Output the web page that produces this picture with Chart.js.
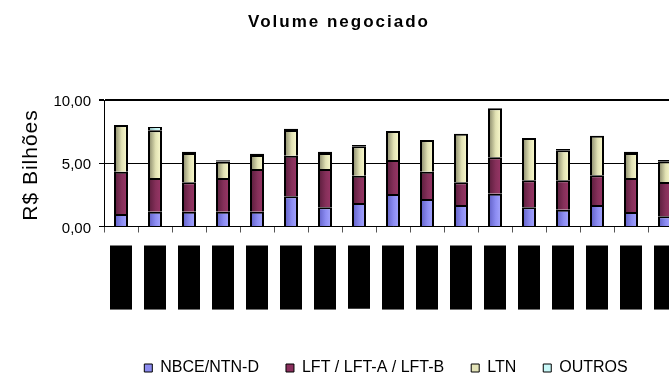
<!DOCTYPE html>
<html>
<head>
<meta charset="utf-8">
<script src="https://cdn.jsdelivr.net/npm/chart.js@4.4.1/dist/chart.umd.min.js"></script>
<style>
  html, body { margin: 0; padding: 0; background: #fff; overflow: hidden; }
  #wrap { width: 669px; height: 375px; overflow: hidden; position: relative; }
  canvas { display: block; }
</style>
</head>
<body>
<div id="wrap"><canvas id="c" width="700" height="375"></canvas></div>
<script>
// Trading days shown on the category axis
const categories = ['02/06/2003', '03/06/2003', '04/06/2003', '05/06/2003', '06/06/2003',
  '09/06/2003', '10/06/2003', '11/06/2003', '12/06/2003', '13/06/2003', '16/06/2003',
  '17/06/2003', '18/06/2003', '20/06/2003', '23/06/2003', '24/06/2003', '25/06/2003'];

// Traded volume per security group, R$ billions
const nbce   = [0.99, 1.17, 1.17, 1.17, 1.17, 2.39, 1.52, 1.86, 2.57, 2.17, 1.70, 2.59, 1.52, 1.33, 1.70, 1.15, 0.81];
const lft    = [3.34, 2.66, 2.32, 2.66, 3.38, 3.21, 3.03, 2.16, 2.69, 2.16, 1.79, 2.88, 2.13, 2.32, 2.35, 2.68, 2.71];
const ltn    = [3.69, 3.77, 2.32, 1.30, 1.11, 2.03, 1.26, 2.32, 2.29, 2.51, 3.85, 3.87, 3.35, 2.38, 3.13, 1.98, 1.64];
const outros = [0.00, 0.26, 0.10, 0.10, 0.10, 0.10, 0.10, 0.10, 0.00, 0.00, 0.00, 0.00, 0.00, 0.10, 0.00, 0.10, 0.10];

const seriesNames = ['NBCE/NTN-D', 'LFT / LFT-A / LFT-B', 'LTN', 'OUTROS'];
const yTicks = [0, 5, 10];
const chartTitle = 'Volume negociado';
const yTitle = 'R$ Bilhões';

const FONT = '"Liberation Sans", Arial, Helvetica, sans-serif';
Chart.defaults.font.family = FONT;

// Shaded fills: dark on the left edge of each bar, light on the right
const shades = {
  nbce:   ['#5c5cc2', '#8c8cf2', '#a8a8ff'],
  lft:    ['#561b39', '#85305a', '#9c3668'],
  ltn:    ['#7e7e62', '#e2e2b4', '#ffffd2'],
  outros: ['#82aaaa', '#c2f2f2', '#dcffff']
};
const legendFill = ['#8c8cf0', '#8a2f5d', '#e4e4b8', '#c8f8f8'];
const BAR_W = 14;

function barGradient(stops) {
  return (ctx) => {
    const chart = ctx.chart;
    const xs = chart.scales.x;
    if (!xs || ctx.type !== 'data' || !isFinite(xs.width)) return stops[1];
    const xc = xs.getPixelForValue(ctx.dataIndex);
    const g = chart.ctx.createLinearGradient(xc - BAR_W / 2, 0, xc + BAR_W / 2, 0);
    g.addColorStop(0, stops[0]);
    g.addColorStop(0.55, stops[1]);
    g.addColorStop(1, stops[2]);
    return g;
  };
}

function series(label, data, key, extra) {
  return Object.assign({
    label,
    data,
    backgroundColor: barGradient(shades[key]),
    borderColor: '#000',
    borderWidth: { top: 2, left: 2, right: 2, bottom: 0 },
    inflateAmount: 0,
    barThickness: BAR_W
  }, extra || {});
}

// Chart title, y-axis title and legend placement
const decor = {
  id: 'decor',
  afterLayout(chart) {
    const lg = chart.legend;
    if (lg) {
      lg.left += 45; lg.right += 45;
      lg.top += 11; lg.bottom += 11;
    }
  },
  afterDraw(chart) {
    const c = chart.ctx;
    c.save();
    c.fillStyle = '#000';
    c.textAlign = 'center';
    c.textBaseline = 'alphabetic';
    c.font = 'bold 17px ' + FONT;
    c.letterSpacing = '2px';
    c.fillText(chartTitle, 339, 27);
    c.restore();

    c.save();
    c.fillStyle = '#000';
    c.textAlign = 'center';
    c.textBaseline = 'alphabetic';
    c.font = '21px ' + FONT;
    c.letterSpacing = '1px';
    c.translate(37, 165);
    c.rotate(-Math.PI / 2);
    c.fillText(yTitle, 0, 0);
    c.restore();
  }
};

const outrosFill = barGradient(shades.outros);

new Chart(document.getElementById('c'), {
  type: 'bar',
  data: {
    labels: categories,
    datasets: [
      series(seriesNames[0], nbce, 'nbce'),
      series(seriesNames[1], lft, 'lft'),
      series(seriesNames[2], ltn, 'ltn'),
      // thin caps read as a solid dark band on top of the bar
      series(seriesNames[3], outros, 'outros', {
        borderSkipped: false,
        backgroundColor: (c) => (c.raw >= 0.2 ? outrosFill(c) : '#000'),
        borderWidth: (c) => (c.raw >= 0.2 ? { top: 1, left: 2, right: 2, bottom: 0 } : 2)
      })
    ]
  },
  options: {
    responsive: false,
    animation: false,
    devicePixelRatio: 1,
    layout: { padding: { top: 100, left: 0, right: 18, bottom: 0 } },
    plugins: {
      title: { display: false },
      tooltip: { enabled: false },
      legend: {
        display: true,
        position: 'bottom',
        labels: {
          color: '#000',
          font: { family: FONT, size: 16 },
          boxWidth: 8,
          boxHeight: 8,
          padding: 27,
          generateLabels: (chart) => chart.data.datasets.map((d, i) => ({
            text: d.label,
            fillStyle: legendFill[i],
            strokeStyle: '#000',
            lineWidth: 1,
            hidden: false,
            datasetIndex: i
          }))
        }
      }
    },
    scales: {
      x: {
        stacked: true,
        offset: true,
        grid: {
          display: true,
          offset: true,
          drawOnChartArea: false,
          drawTicks: true,
          tickLength: 6,
          color: '#555',
          lineWidth: 1
        },
        border: { display: true, color: '#000', width: 1 },
        ticks: {
          autoSkip: false,
          minRotation: 90,
          maxRotation: 90,
          padding: 17,
          color: '#000',
          font: { family: FONT, size: 11, lineHeight: 1 },
          showLabelBackdrop: true,
          backdropColor: '#000',
          backdropPadding: { top: 11, bottom: 0, left: 5, right: 4 }
        },
        afterFit: (s) => { s.height = 95.5; }
      },
      y: {
        stacked: true,
        min: 0,
        max: 10,
        afterBuildTicks: (s) => { s.ticks = yTicks.map(v => ({ value: v })); },
        ticks: {
          color: '#000',
          font: { family: FONT, size: 15 },
          padding: 8,
          labelOffset: 2,
          callback: (v) => Number(v).toFixed(2).replace('.', ',')
        },
        grid: {
          color: '#000',
          lineWidth: (c) => (c.tick && c.tick.value === 10 ? 2 : 1),
          tickLength: 5
        },
        border: { display: true, color: '#000', width: 1 },
        afterFit: (s) => { s.width = 104; }
      }
    }
  },
  plugins: [decor]
});
</script>
</body>
</html>
